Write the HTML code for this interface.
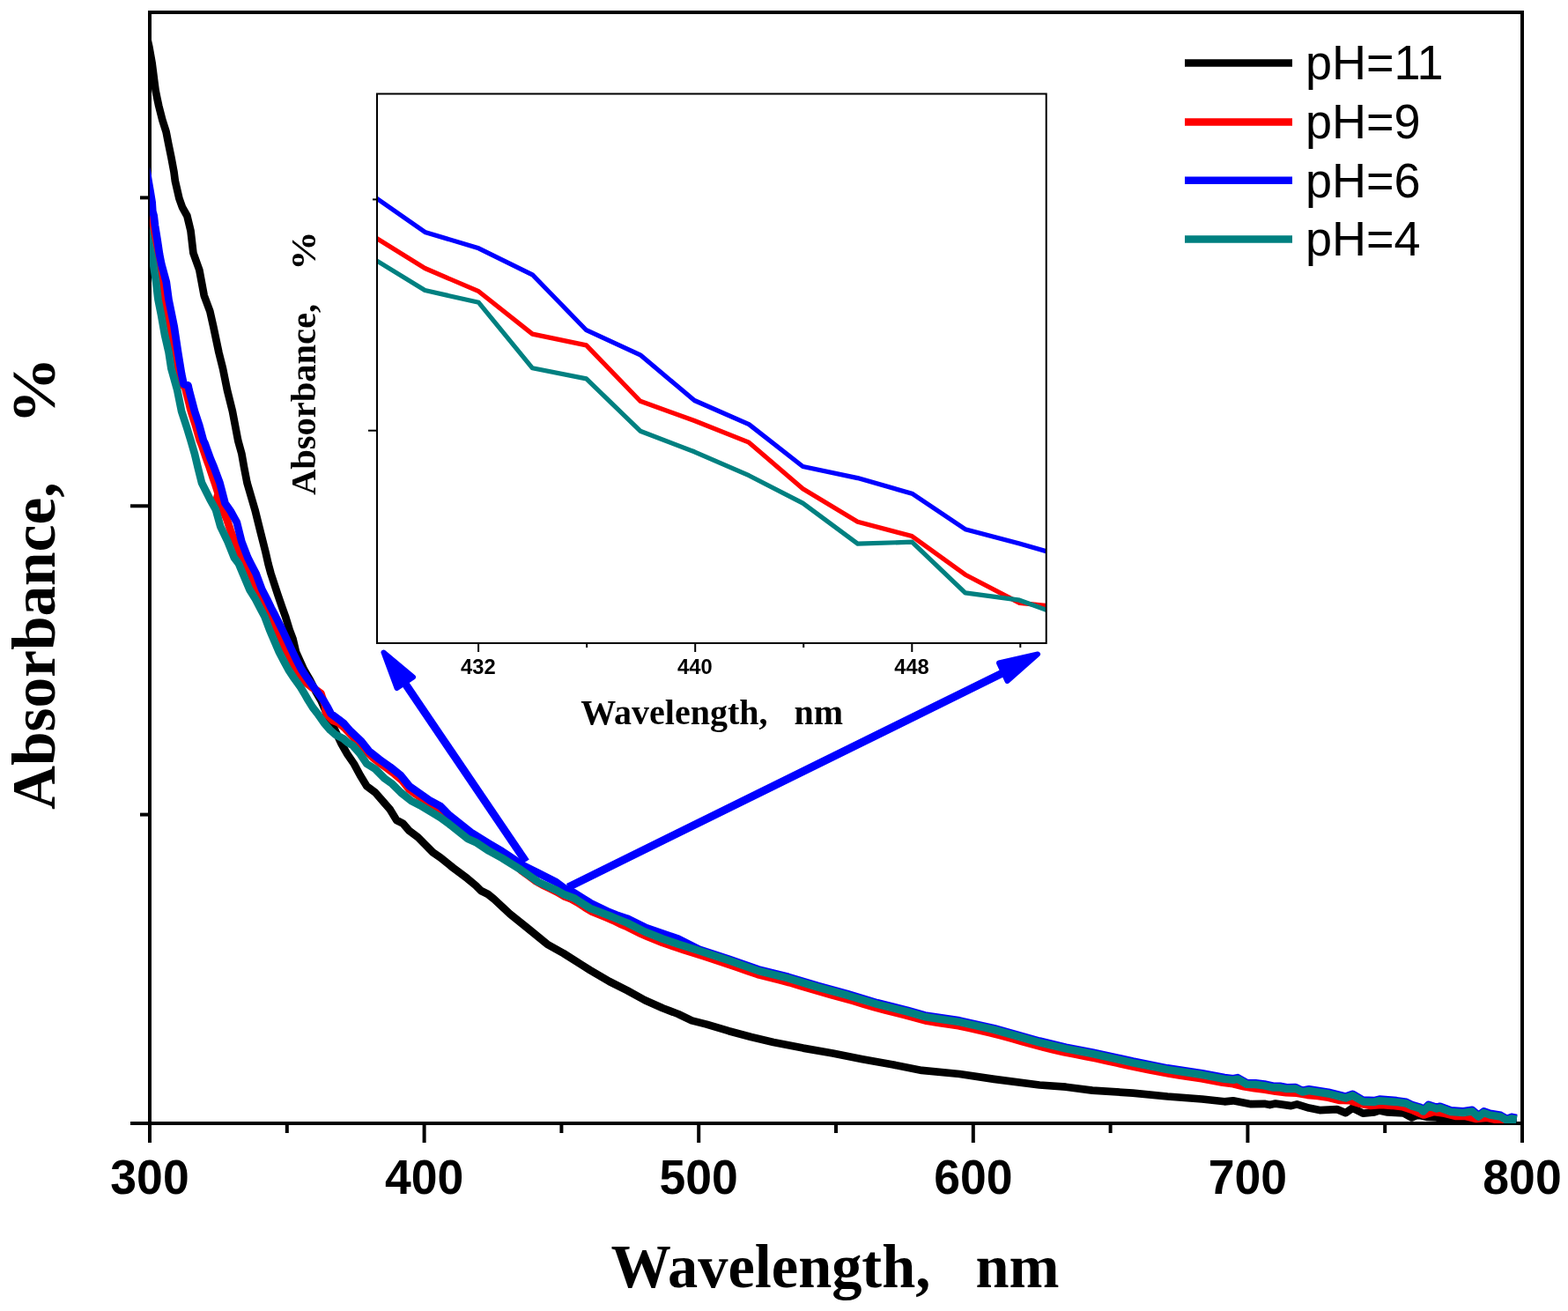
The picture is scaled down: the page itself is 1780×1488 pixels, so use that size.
<!DOCTYPE html>
<html><head><meta charset="utf-8"><title>Absorbance vs Wavelength</title>
<style>html,body{margin:0;padding:0;background:#fff;}svg{display:block;}</style>
</head><body>
<svg width="1780" height="1488" viewBox="0 0 1780 1488">
<defs><clipPath id="ic"><rect x="429" y="107.5" width="758" height="621.5"/></clipPath><clipPath id="mc"><rect x="170" y="14" width="1558" height="1261"/></clipPath></defs>
<rect width="1780" height="1488" fill="#fff"/>
<g stroke="#000" stroke-width="4" fill="none" stroke-linecap="butt">
<rect x="170" y="14" width="1558" height="1261"/>
<line x1="170.0" y1="1275" x2="170.0" y2="1297"/>
<line x1="481.6" y1="1275" x2="481.6" y2="1297"/>
<line x1="793.2" y1="1275" x2="793.2" y2="1297"/>
<line x1="1104.8" y1="1275" x2="1104.8" y2="1297"/>
<line x1="1416.4" y1="1275" x2="1416.4" y2="1297"/>
<line x1="1728.0" y1="1275" x2="1728.0" y2="1297"/>
<line x1="325.8" y1="1275" x2="325.8" y2="1286"/>
<line x1="637.4" y1="1275" x2="637.4" y2="1286"/>
<line x1="949.0" y1="1275" x2="949.0" y2="1286"/>
<line x1="1260.6" y1="1275" x2="1260.6" y2="1286"/>
<line x1="1572.2" y1="1275" x2="1572.2" y2="1286"/>
<line x1="148" y1="1275" x2="170" y2="1275"/>
<line x1="148" y1="574.3" x2="170" y2="574.3"/>
<line x1="159" y1="924.6" x2="170" y2="924.6"/>
<line x1="159" y1="224.4" x2="170" y2="224.4"/>
</g>
<g clip-path="url(#mc)" fill="none" stroke-width="8.7" stroke-linejoin="round" stroke-linecap="butt">
<polyline stroke="#000" points="164.0,25.0 167.6,45.4 169.4,53.5 171.0,62.5 172.6,71.5 173.7,80.0 175.4,93.5 176.6,102.5 178.4,111.5 180.2,120.0 184.3,136.1 188.6,149.6 191.2,163.0 194.5,179.1 197.5,195.3 198.8,205.2 203.4,225.3 207.0,235.4 212.4,245.0 216.5,262.0 219.4,287.1 226.3,306.4 231.7,335.4 238.4,353.6 242.1,370.0 248.4,400.0 253.0,418.4 257.9,442.6 263.9,466.8 270.2,500.0 274.4,515.2 277.0,530.0 280.5,548.0 284.0,560.0 289.4,578.4 295.4,602.6 301.5,626.8 304.5,640.0 307.5,651.0 315.4,675.2 320.5,690.0 323.9,699.4 328.7,715.0 332.5,725.0 336.0,740.0 340.5,750.0 345.0,760.0 352.0,772.0 358.0,784.0 364.4,795.0 371.0,810.0 376.0,819.0 380.0,828.1 387.2,843.5 394.5,856.3 401.8,866.9 409.0,880.2 416.3,892.3 426.0,899.5 434.4,909.2 442.9,918.9 450.2,931.0 457.4,934.6 464.7,943.1 474.4,950.3 482.8,958.8 491.3,967.3 500.0,973.3 514.4,985.0 530.5,997.1 540.0,1005.0 546.0,1011.0 554.0,1015.0 560.7,1020.4 578.9,1037.4 599.0,1053.5 621.2,1071.7 640.0,1082.3 661.5,1095.9 670.0,1101.2 691.8,1114.0 711.9,1124.1 732.1,1135.2 752.3,1144.3 770.0,1151.0 785.3,1158.4 802.1,1162.6 827.4,1170.2 852.7,1177.0 878.0,1182.9 911.7,1189.6 945.4,1195.5 979.1,1202.2 1012.8,1208.2 1046.5,1214.9 1089.3,1219.0 1128.6,1224.9 1180.0,1231.5 1210.0,1233.7 1240.0,1237.6 1286.0,1240.6 1325.3,1244.5 1364.6,1247.5 1390.0,1250.3 1399.8,1249.3 1420.2,1253.2 1435.4,1252.8 1441.5,1254.1 1448.0,1252.6 1465.7,1255.1 1472.3,1253.4 1485.9,1257.6 1498.1,1260.1 1517.8,1259.1 1527.6,1263.1 1535.5,1257.7 1547.3,1263.6 1560.0,1262.5 1566.0,1260.4 1575.2,1262.5 1593.4,1263.5 1602.5,1268.5 1609.5,1265.5 1620.7,1268.0 1630.8,1268.5 1640.9,1270.6 1680.0,1272.5 1721.8,1273.5"/>
<polyline stroke="#f00" points="168.5,236.0 168.6,242.0 169.7,248.0 170.5,254.0 171.5,260.0 172.5,266.0 173.5,272.0 174.5,278.0 175.6,284.0 176.7,290.0 177.9,296.0 179.1,302.0 180.4,308.0 181.7,314.0 183.0,320.0 183.7,326.0 184.5,332.0 185.2,338.0 186.3,344.0 187.5,350.0 188.7,356.0 189.9,362.0 191.0,368.0 192.1,374.0 193.1,380.0 194.2,386.0 195.3,392.0 196.5,398.0 197.5,404.0 198.4,410.0 199.4,416.0 200.6,422.0 202.0,428.0 205.5,434.0 210.2,440.0 211.7,446.0 213.2,452.0 214.7,458.0 216.1,464.0 217.9,470.0 219.8,476.0 221.8,482.0 223.5,488.0 225.2,494.0 226.9,500.0 229.3,506.0 231.4,512.0 233.4,518.0 235.5,524.0 237.7,530.0 239.7,536.0 241.7,542.0 243.8,548.0 245.7,554.0 247.7,560.0 246.1,566.0 248.7,572.0 252.5,578.0 255.2,584.0 257.7,590.0 259.7,596.0 261.7,602.0 263.9,608.0 266.1,614.0 268.5,620.0 270.8,626.0 273.2,632.0 276.7,638.0 279.8,644.0 282.7,650.0 285.1,656.0 287.5,662.0 289.9,668.0 293.1,674.0 296.5,680.0 299.5,686.0 302.6,692.0 305.7,698.0 308.5,704.0 311.1,710.0 313.7,716.0 316.4,722.0 319.1,728.0 321.8,734.0 324.5,740.0 327.5,746.0 330.6,752.0 333.7,758.0 337.5,764.0 341.5,770.0 353.9,780.0 360.0,784.0 364.4,787.0 366.0,792.0 369.0,800.0 370.0,810.0 378.0,818.0 384.0,820.2 392.0,827.0 400.0,835.8 408.0,843.4 416.0,852.9 424.0,860.5 432.0,866.8 440.0,872.5 448.0,878.6 456.0,885.4 464.0,895.4 472.0,901.4 480.0,906.9 488.0,912.6 496.0,917.0 504.0,926.0 512.0,932.9 520.0,939.3 528.0,945.6 536.0,950.9 544.0,955.6 552.0,960.7 560.0,965.5 568.0,970.0 576.0,975.0 584.0,980.2 592.0,988.3 600.0,994.1 608.0,999.9 616.0,1004.6 624.0,1008.4 632.0,1012.3 640.0,1017.1 648.0,1020.2 656.0,1024.6 664.0,1029.9 672.0,1034.7 680.0,1038.0 688.0,1041.3 696.0,1044.7 704.0,1048.7 712.0,1052.0 720.0,1056.0 728.0,1060.0 736.0,1063.5 744.0,1066.7 752.0,1069.9 760.0,1072.7 768.0,1075.4 776.0,1078.0 788.0,1081.8 800.0,1085.7 812.0,1089.6 824.0,1093.5 836.0,1097.6 848.0,1101.8 860.0,1106.0 872.0,1109.1 884.0,1112.1 896.0,1115.2 908.0,1118.8 920.0,1122.4 932.0,1125.9 944.0,1129.2 956.0,1132.5 968.0,1135.9 980.0,1139.5 992.0,1143.1 1004.0,1146.3 1016.0,1149.3 1028.0,1152.3 1040.0,1155.6 1052.0,1158.8 1064.0,1160.6 1076.0,1162.4 1088.0,1164.2 1100.0,1166.8 1112.0,1169.5 1124.0,1172.2 1136.0,1175.3 1148.0,1178.6 1160.0,1182.0 1172.0,1185.4 1184.0,1188.5 1196.0,1191.4 1208.0,1194.2 1220.0,1196.6 1232.0,1198.9 1244.0,1201.3 1256.0,1203.9 1268.0,1206.6 1280.0,1209.3 1292.0,1211.8 1304.0,1214.2 1316.0,1216.6 1328.0,1218.8 1340.0,1220.6 1352.0,1222.4 1364.0,1224.2 1376.0,1226.5 1388.0,1228.7 1400.0,1230.2 1412.0,1233.2 1424.0,1235.3 1436.0,1236.7 1448.0,1238.8 1460.0,1240.2 1472.0,1240.7 1484.0,1242.8 1496.0,1244.0 1508.0,1245.8 1520.0,1248.8 1532.0,1249.1 1544.0,1252.8 1556.0,1255.0 1568.0,1253.9 1580.0,1254.8 1592.0,1256.2 1604.0,1260.2 1616.0,1265.5 1628.0,1261.9 1640.0,1263.8 1652.0,1266.8 1664.0,1267.0 1676.0,1270.0 1688.0,1268.7 1700.0,1271.3 1712.0,1275.5"/>
<polyline stroke="#00f" points="162.4,170.0 165.6,189.0 167.2,197.1 168.5,205.2 170.6,217.3 172.6,229.4 173.3,240.0 174.7,245.0 176.0,256.1 178.6,272.3 181.0,288.4 183.3,300.0 188.8,320.2 191.5,340.0 197.6,370.0 202.1,400.0 206.1,424.4 208.5,436.0 213.5,437.5 214.6,442.6 221.0,466.8 226.0,482.0 230.9,500.0 232.5,503.1 239.1,521.2 242.8,530.0 249.5,548.0 255.5,571.1 262.2,580.8 268.8,592.9 274.3,614.7 281.2,632.8 284.8,640.0 290.6,651.0 297.3,669.1 303.0,680.0 307.8,690.0 312.1,698.1 320.5,715.0 332.2,740.0 337.0,750.0 342.2,760.0 349.0,770.0 356.2,780.0 362.0,788.0 367.2,795.0 372.0,803.0 375.6,810.0 384.7,816.7 390.7,821.5 398.1,830.0 410.2,841.5 418.7,852.3 430.8,862.0 442.9,870.5 455.0,880.2 464.7,892.3 476.8,900.7 488.9,909.2 500.0,915.2 510.3,925.5 534.5,944.7 555.0,957.4 570.0,966.3 576.9,970.9 595.0,983.0 611.1,991.0 631.3,1001.1 640.0,1007.8 651.5,1013.2 670.0,1024.8 691.8,1035.4 700.0,1038.5 711.9,1042.5 732.1,1052.5 752.3,1059.6 770.0,1065.6 793.7,1077.6 827.4,1088.6 861.1,1100.4 894.8,1108.8 928.5,1118.9 962.3,1128.2 996.0,1138.3 1029.7,1146.7 1050.0,1152.5 1089.3,1158.4 1128.6,1167.2 1180.0,1181.6 1210.0,1188.7 1240.0,1194.4 1286.0,1204.6 1325.3,1212.4 1364.6,1218.3 1390.0,1223.1 1400.0,1224.2 1405.0,1223.2 1415.2,1229.0 1425.3,1229.3 1435.4,1230.6 1445.5,1232.8 1453.1,1232.8 1460.7,1234.3 1470.8,1234.1 1478.4,1237.8 1485.9,1236.4 1508.0,1239.8 1527.6,1244.7 1535.5,1241.8 1547.3,1248.7 1560.0,1249.2 1566.0,1247.7 1585.3,1249.2 1596.4,1250.8 1602.5,1253.8 1612.6,1256.8 1615.6,1259.9 1621.7,1253.8 1630.8,1256.8 1634.8,1255.8 1647.0,1260.4 1661.1,1261.4 1671.2,1259.9 1678.3,1265.9 1684.4,1261.4 1691.4,1263.9 1703.6,1265.9 1710.7,1270.0 1715.7,1267.9 1721.8,1269.0"/>
<polyline stroke="#008080" points="163.0,240.0 165.6,256.0 167.7,268.2 170.1,280.3 172.5,292.4 174.1,300.0 177.2,320.2 179.5,340.0 182.9,357.0 187.0,380.0 191.6,400.0 194.4,418.4 201.2,442.6 206.1,466.8 212.0,485.0 216.6,500.0 221.0,515.2 224.5,530.0 229.0,548.0 238.2,566.3 244.9,578.4 250.3,597.7 258.5,614.7 265.8,632.8 271.1,640.0 275.7,651.0 283.3,669.1 290.0,680.0 295.2,690.0 300.5,700.0 306.1,715.0 316.8,740.0 322.0,750.0 327.4,760.0 334.0,770.0 341.2,780.0 346.0,788.0 350.0,795.0 355.0,803.0 360.5,810.0 367.7,820.3 375.0,828.8 381.0,834.0 389.7,838.4 395.0,843.0 400.6,846.3 409.0,856.0 416.3,866.9 426.0,872.9 436.9,883.8 445.3,889.8 455.0,899.5 467.1,909.2 476.8,914.0 488.9,921.3 500.0,927.9 510.3,935.6 530.5,951.7 540.0,955.9 555.0,965.8 570.0,974.0 591.0,987.0 611.1,1001.1 631.3,1010.2 640.0,1015.1 651.5,1019.3 670.0,1031.0 691.8,1039.4 700.0,1042.7 711.9,1047.5 732.1,1057.6 752.3,1065.6 770.0,1071.7 793.7,1079.2 827.4,1090.2 861.1,1102.0 894.8,1110.4 928.5,1120.5 962.3,1129.8 996.0,1139.9 1029.7,1148.3 1050.0,1154.1 1089.3,1160.0 1128.6,1168.8 1180.0,1183.2 1210.0,1190.3 1240.0,1196.0 1286.0,1206.2 1325.3,1214.0 1364.6,1219.9 1390.0,1224.7 1400.0,1225.8 1405.0,1224.8 1415.2,1230.6 1425.3,1230.9 1435.4,1232.2 1445.5,1234.4 1453.1,1234.4 1460.7,1235.9 1470.8,1235.7 1478.4,1239.4 1485.9,1238.0 1508.0,1241.4 1527.6,1246.3 1535.5,1243.4 1547.3,1250.3 1560.0,1250.8 1566.0,1249.3 1585.3,1250.8 1596.4,1252.4 1602.5,1255.4 1612.6,1258.4 1615.6,1261.5 1621.7,1255.4 1630.8,1258.4 1634.8,1257.4 1647.0,1262.0 1661.1,1263.0 1671.2,1261.5 1678.3,1267.5 1684.4,1263.0 1691.4,1265.5 1703.6,1267.5 1710.7,1271.6 1715.7,1269.5 1721.8,1270.6"/>
</g>
<g font-family="Liberation Sans, Arial, sans-serif" font-weight="bold" font-size="53.5" text-anchor="middle" fill="#000">
<text transform="translate(170.0,1354.6) scale(1,1.04)">300</text>
<text transform="translate(481.6,1354.6) scale(1,1.04)">400</text>
<text transform="translate(793.2,1354.6) scale(1,1.04)">500</text>
<text transform="translate(1104.8,1354.6) scale(1,1.04)">600</text>
<text transform="translate(1416.4,1354.6) scale(1,1.04)">700</text>
<text transform="translate(1728.0,1354.6) scale(1,1.04)">800</text>
</g>
<text transform="translate(948,1461) scale(1,1.012)" font-family="Liberation Serif, Times New Roman, serif" font-weight="bold" font-size="68.4" text-anchor="middle" xml:space="preserve" style="white-space:pre">Wavelength,   nm</text>
<g font-family="Liberation Serif, Times New Roman, serif" font-weight="bold">
<text transform="translate(61.5,919) rotate(-90) scale(1,1.012)" font-size="69.3" text-anchor="start">Absorbance,</text>
<text transform="translate(61.5,443.2) rotate(-90) scale(1.1,1.012)" font-size="69.3" text-anchor="middle">%</text>
</g>
<line x1="1345" y1="71.6" x2="1467" y2="71.6" stroke="#000" stroke-width="8.5"/>
<text transform="translate(1482,90.4) scale(1,1.04)" font-family="Liberation Sans, Arial, sans-serif" font-size="54">pH=11</text>
<line x1="1345" y1="138.4" x2="1467" y2="138.4" stroke="#f00" stroke-width="8.5"/>
<text transform="translate(1482,157.2) scale(1,1.04)" font-family="Liberation Sans, Arial, sans-serif" font-size="54">pH=9</text>
<line x1="1345" y1="204.8" x2="1467" y2="204.8" stroke="#00f" stroke-width="8.5"/>
<text transform="translate(1482,223.6) scale(1,1.04)" font-family="Liberation Sans, Arial, sans-serif" font-size="54">pH=6</text>
<line x1="1345" y1="271.4" x2="1467" y2="271.4" stroke="#008080" stroke-width="8.5"/>
<text transform="translate(1482,290.2) scale(1,1.04)" font-family="Liberation Sans, Arial, sans-serif" font-size="54">pH=4</text>
<rect x="428" y="106.5" width="759.7" height="623.5" fill="#fff" stroke="none"/>
<g clip-path="url(#ic)" fill="none" stroke-width="5.2" stroke-linejoin="round">
<polyline stroke="#00f" points="420.1,219.9 482.4,263.4 543.4,281.8 604.4,311.8 665.6,374.7 726.8,402.8 788.3,454.5 850.2,481.6 911.4,529.5 973.6,542.6 1035.3,560.2 1095.7,600.7 1157.4,617.1 1219.8,634.9"/>
<polyline stroke="#f00" points="420.1,265.8 482.4,304.5 543.4,330.7 604.4,379.1 665.6,391.9 726.8,455.3 788.3,477.5 850.2,502.2 911.4,554.7 973.6,592.2 1035.3,608.6 1095.7,652.2 1157.4,684.4 1219.8,690.5"/>
<polyline stroke="#008080" points="420.1,291.3 482.4,329.5 543.4,343.3 604.4,417.8 665.6,429.9 726.8,489.2 788.3,512.8 850.2,539.7 911.4,571.1 973.6,617.1 1035.3,615.2 1095.7,672.8 1157.4,681.2 1219.8,704.0"/>
</g>
<g stroke="#000" stroke-width="2" fill="none">
<rect x="428" y="106.5" width="759.7" height="623.5"/>
<line x1="543.1" y1="730" x2="543.1" y2="740"/>
<line x1="666.1" y1="730" x2="666.1" y2="735"/>
<line x1="789.2" y1="730" x2="789.2" y2="740"/>
<line x1="912.2" y1="730" x2="912.2" y2="735"/>
<line x1="1035.3" y1="730" x2="1035.3" y2="740"/>
<line x1="1158.3" y1="730" x2="1158.3" y2="735"/>
<line x1="418" y1="488.7" x2="428" y2="488.7"/>
<line x1="423" y1="226.4" x2="428" y2="226.4"/>
</g>
<g font-family="Liberation Sans, Arial, sans-serif" font-weight="bold" font-size="22.5" text-anchor="middle">
<text transform="translate(542.8,765) scale(1.055,1.04)">432</text>
<text transform="translate(788.9,765) scale(1.055,1.04)">440</text>
<text transform="translate(1035.0,765) scale(1.055,1.04)">448</text>
</g>
<text transform="translate(808.2,822.3) scale(1,1.012)" font-family="Liberation Serif, Times New Roman, serif" font-weight="bold" font-size="40" text-anchor="middle" xml:space="preserve" style="white-space:pre">Wavelength,   nm</text>
<g font-family="Liberation Serif, Times New Roman, serif" font-weight="bold">
<text transform="translate(357.6,562) rotate(-90) scale(1,1.012)" font-size="40.5" text-anchor="start">Absorbance,</text>
<text transform="translate(357.6,284.4) rotate(-90) scale(1.1,1.012)" font-size="40.5" text-anchor="middle">%</text>
</g>
<g fill="#00f" stroke="#00f" stroke-linejoin="round">
<line x1="597" y1="978" x2="458" y2="773" stroke-width="9"/>
<polygon points="435.5,740.5 469,768.5 450.5,781" stroke-width="6"/>
<line x1="645" y1="1007" x2="1140" y2="763" stroke-width="9"/>
<polygon points="1178,742.5 1134,752.5 1143.5,773" stroke-width="6"/>
</g>
</svg>
</body></html>
